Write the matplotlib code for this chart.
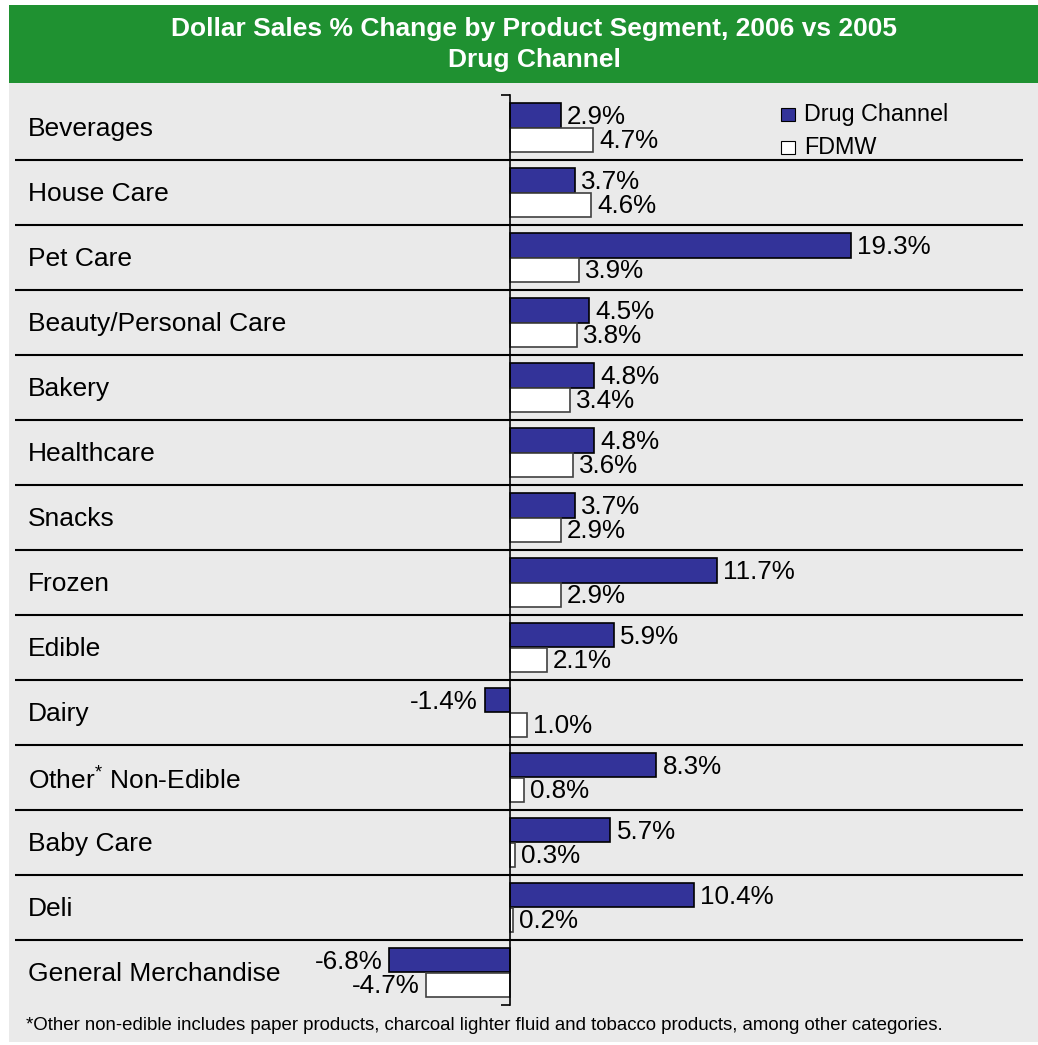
import matplotlib
matplotlib.use("Agg")
import matplotlib.pyplot as plt
import matplotlib.patches as patches
import matplotlib.transforms as mtransforms

plt.rcParams['font.family'] = ['Liberation Sans', 'DejaVu Sans']
plt.rcParams['mathtext.fontset'] = 'custom'
plt.rcParams['mathtext.rm'] = 'Liberation Sans'

# Данные: сегменты и изменение продаж в %
segments = ["Beverages", "House Care", "Pet Care", "Beauty/Personal Care", "Bakery",
            "Healthcare", "Snacks", "Frozen", "Edible", "Dairy",
            "Other$^{\\mathrm{*}}$ Non-Edible", "Baby Care", "Deli", "General Merchandise"]
drug_channel = [2.9, 3.7, 19.3, 4.5, 4.8, 4.8, 3.7, 11.7, 5.9, -1.4, 8.3, 5.7, 10.4, -6.8]
fdmw = [4.7, 4.6, 3.9, 3.8, 3.4, 3.6, 2.9, 2.9, 2.1, 1.0, 0.8, 0.3, 0.2, -4.7]

W, H = 1038, 1045
fig = plt.figure(figsize=(W / 100, H / 100), dpi=100)
fig.patch.set_facecolor("white")

# фон: серая подложка и зелёная шапка (под осями)
fig.add_artist(patches.Rectangle((9 / W, 1 - 1042 / H), (W - 9) / W, (1042 - 83) / H,
                                 transform=fig.transFigure, facecolor="#eaeaea", edgecolor="none",
                                 zorder=-10))
fig.add_artist(patches.Rectangle((9 / W, 1 - 83 / H), (W - 9) / W, 78 / H,
                                 transform=fig.transFigure, facecolor="#1f9131", edgecolor="none",
                                 zorder=-10))
fig.text(534 / W, 1 - 29 / H, "Dollar Sales % Change by Product Segment, 2006 vs 2005",
         color="white", fontsize=19, fontweight="bold", ha="center", va="center")
fig.text(534 / W, 1 - 60 / H, "Drug Channel",
         color="white", fontsize=19, fontweight="bold", ha="center", va="center")

ax = fig.add_axes([15 / W, 1 - 1005 / H, (1023 - 15) / W, (1005 - 95) / H])
ax.patch.set_alpha(0)

px = 17.7  # пикселей на 1%
ax.set_xlim((15 - 509.5) / px, (1023 - 509.5) / px)
n = len(segments)
ax.set_ylim(n, 0)

bh = 0.37
for i in range(n):
    c = i + 0.5
    ax.barh(c - bh / 2, drug_channel[i], height=bh, color="#333399", edgecolor="black", linewidth=1.2)
    ax.barh(c + bh / 2, fdmw[i], height=bh, color="white", edgecolor="#404040", linewidth=1.2)
    for v, y in ((drug_channel[i], c - bh / 2), (fdmw[i], c + bh / 2)):
        off = 4.5 if v >= 0 else -5
        ax.annotate(f"{v:.1f}%", (v, y), xytext=(off, -1), textcoords="offset points",
                    ha="left" if v >= 0 else "right", va="center", fontsize=18.7)

# разделители строк
for k in range(1, n):
    ax.axhline(k, color="black", linewidth=1.5, zorder=3)

trans = mtransforms.blended_transform_factory(ax.transAxes, ax.transData)
for i, name in enumerate(segments):
    ax.text(13 / 1008, i + 0.53, name, transform=trans, ha="left", va="center", fontsize=19)

# ось категорий по нулю
for s in ("top", "right", "bottom"):
    ax.spines[s].set_visible(False)
ax.spines["left"].set_position(("data", 0))
ax.spines["left"].set_linewidth(1.2)
ax.set_yticks(range(n + 1))
ax.set_yticklabels([])
ax.tick_params(axis="y", length=6.5, width=1.2, direction="out")
ax.set_xticks([])

# легенда
fig.add_artist(patches.Rectangle((781 / W, 1 - 121 / H), 14 / W, 13 / H, transform=fig.transFigure,
                                 facecolor="#333399", edgecolor="black", linewidth=0.8))
fig.add_artist(patches.Rectangle((781 / W, 1 - 154 / H), 14 / W, 13 / H, transform=fig.transFigure,
                                 facecolor="white", edgecolor="black", linewidth=0.8))
fig.text(804 / W, 1 - 115 / H, "Drug Channel", fontsize=16.8, va="center")
fig.text(804 / W, 1 - 148 / H, "FDMW", fontsize=16.8, va="center")

fig.text(26 / W, 1 - 1025 / H,
         "*Other non-edible includes paper products, charcoal lighter fluid and tobacco products, among other categories.",
         fontsize=13.4, va="center")

fig.savefig("out.png", dpi=100)
